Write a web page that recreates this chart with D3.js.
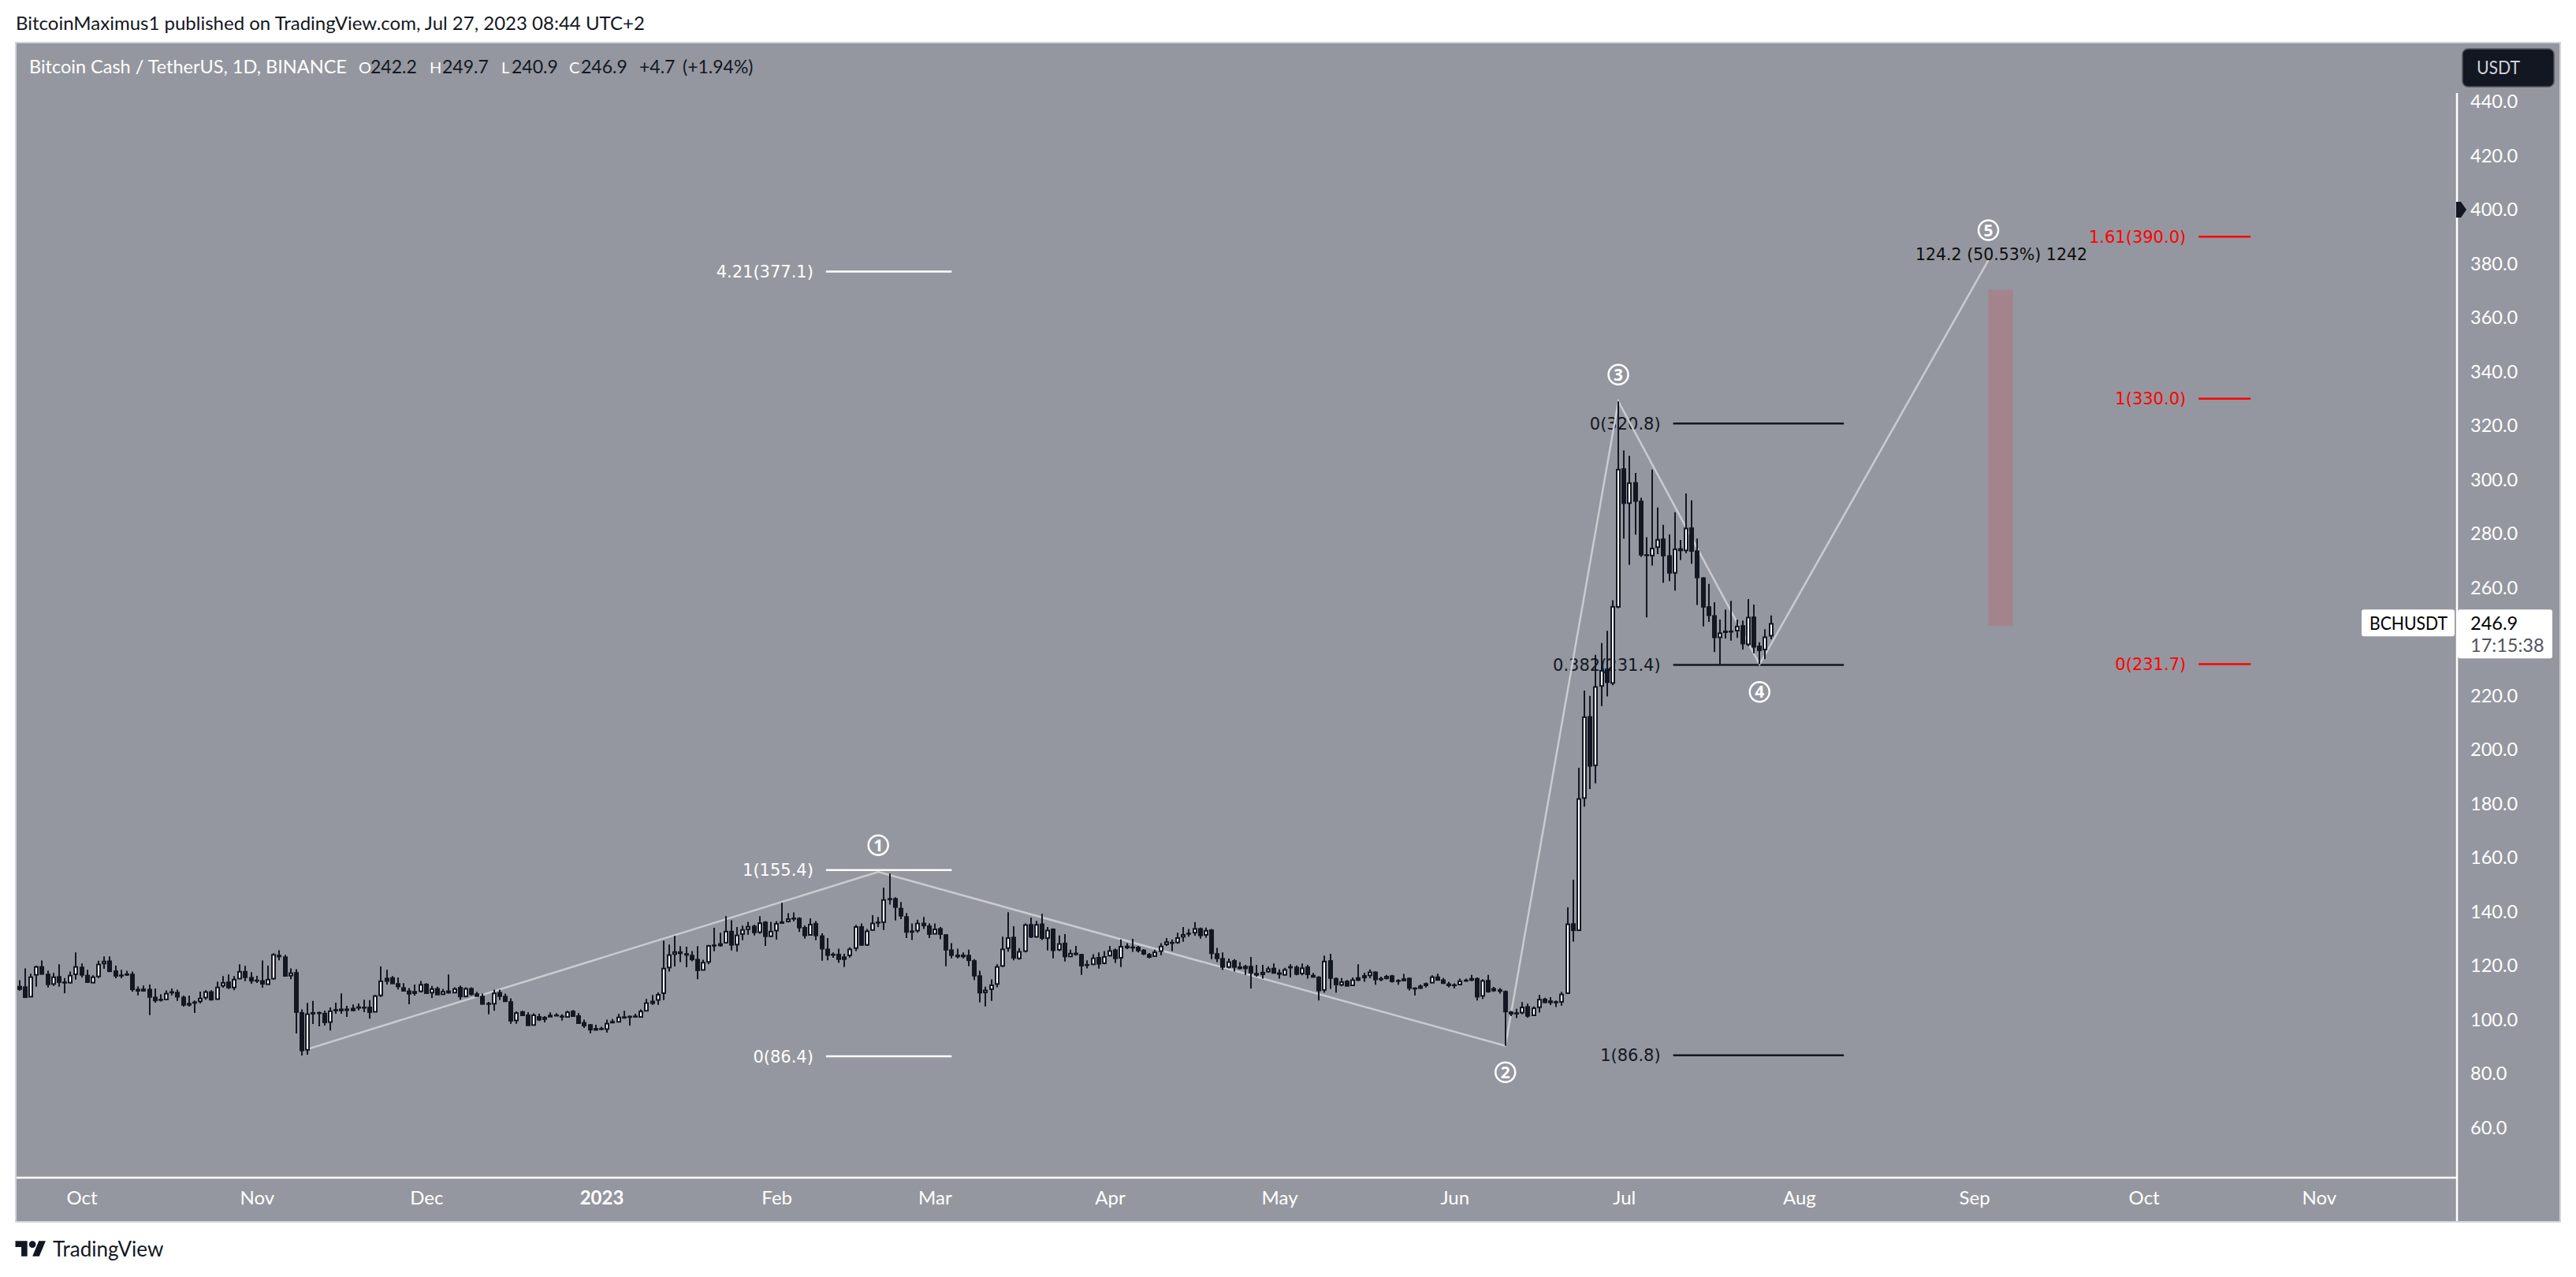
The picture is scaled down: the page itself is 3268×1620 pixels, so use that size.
<!DOCTYPE html>
<html>
<head>
<meta charset="utf-8">
<title>BCHUSDT</title>
<script src="https://cdn.jsdelivr.net/npm/d3@7/dist/d3.min.js"></script>
<style>
  html, body { margin: 0; padding: 0; background: #fff; }
  svg { display: block; }
  text { font-family: "Lato", "Open Sans", sans-serif; }
  .fib { font-family: "DejaVu Sans", sans-serif; font-size: 21px; }
</style>
</head>
<body>
<script>
// daily candles, first one is 20 Sep 2022
const firstDay = '2022-09-20';
const opens = [
  112.5,112.3,108.5,116.6,119.8,117.0,113.2,116.1,114.1,113.7,
  116.8,119.6,116.6,113.7,116.0,120.8,121.9,118.2,116.7,117.1,
  117.0,111.4,111.5,111.4,108.5,107.7,107.5,110.5,110.3,108.5,
  106.2,106.7,106.8,108.2,110.5,107.6,112.6,114.1,111.9,115.2,
  118.0,115.8,114.8,114.6,113.1,115.2,124.0,123.4,116.3,117.6,
  102.8,88.8,102.8,102.8,102.5,99.1,103.9,104.1,104.1,104.4,
  104.9,104.8,104.8,102.9,109.0,115.5,115.7,113.5,112.0,110.8,
  109.8,110.5,113.3,110.0,111.7,109.4,110.8,110.0,112.1,108.6,
  111.7,109.7,108.8,106.2,105.9,110.2,108.8,106.8,99.7,103.1,
  101.9,98.0,101.3,100.2,101.8,101.9,101.5,101.0,103.3,101.6,
  99.1,98.3,96.9,96.9,96.5,99.5,99.2,101.2,101.4,101.5,
  101.0,103.3,107.0,107.3,109.8,119.3,124.3,125.3,124.6,124.0,
  122.5,118.4,121.4,127.8,128.3,128.5,132.9,127.8,131.7,133.5,
  134.8,132.4,136.3,130.9,133.0,136.4,136.4,137.8,137.7,134.3,
  131.4,135.8,131.2,126.3,124.4,124.4,123.4,123.8,126.5,134.6,
  127.7,133.2,136.3,136.1,145.0,145.0,141.4,138.3,133.0,133.0,
  135.9,134.9,131.8,133.9,131.6,126.0,124.1,124.1,124.0,122.0,
  116.4,110.1,111.3,113.2,119.9,126.5,130.7,122.7,125.4,135.4,
  130.7,135.6,130.2,133.7,125.9,128.5,123.4,124.8,124.3,120.6,
  120.5,123.2,120.9,123.7,126.0,122.9,127.4,127.1,127.0,125.9,
  124.3,123.5,125.4,127.9,128.8,128.6,130.7,132.2,132.2,133.9,
  131.4,133.4,124.6,122.8,119.5,122.0,119.7,119.9,119.9,117.3,
  116.8,117.8,119.2,117.5,116.6,119.8,119.6,117.1,119.7,116.6,
  115.9,111.0,122.0,115.4,112.9,114.4,112.7,115.7,116.5,116.4,
  117.8,115.4,115.3,116.4,114.7,114.5,115.5,111.9,111.7,113.5,
  113.7,116.0,114.9,113.4,113.1,113.0,114.8,115.4,115.4,108.8,
  114.7,111.7,111.2,110.6,103.0,102.7,102.6,105.0,101.6,104.6,
  107.8,107.1,106.8,106.6,109.8,135.7,133.1,182.1,212.4,194.2,
  223.6,230.0,224.7,252.9,304.2,291.3,299.1,292.2,272.4,271.9,
  275.0,278.2,272.0,265.5,274.6,273.8,282.3,273.8,263.8,253.1,
  249.8,241.6,244.1,244.1,244.1,246.1,239.0,249.3,238.5,237.1,
  242.2
];
const highs = [
  114.6,119.0,117.0,120.0,121.9,118.1,117.3,120.5,115.4,117.8,
  124.9,120.8,118.5,116.4,121.8,123.4,123.4,120.0,118.5,118.1,
  117.8,112.3,112.6,113.0,111.5,109.4,110.8,111.5,111.1,108.9,
  108.9,107.1,110.4,110.9,110.9,114.1,116.1,116.7,116.1,120.5,
  119.9,117.6,116.2,121.9,120.0,124.6,125.7,124.0,119.0,118.7,
  103.8,106.2,106.9,103.0,103.3,104.5,106.3,109.7,105.1,105.6,
  106.0,107.4,107.2,109.1,119.7,118.5,116.1,115.6,113.5,111.7,
  113.0,114.3,113.5,112.5,112.2,111.4,116.7,112.0,112.6,112.0,
  112.0,110.3,109.6,106.6,111.1,111.1,109.6,107.9,103.1,103.3,
  102.7,102.3,102.2,101.3,102.7,102.4,102.0,103.3,103.6,102.4,
  100.0,98.4,98.1,97.4,100.0,100.2,102.1,103.3,101.5,102.2,
  103.8,107.7,109.1,110.1,129.3,127.8,131.0,127.2,127.0,125.4,
  127.2,122.2,127.7,134.0,132.2,138.3,136.8,134.3,134.8,136.2,
  135.2,138.3,136.5,136.2,136.5,143.3,139.4,139.7,137.9,134.9,
  137.5,136.5,132.0,130.2,124.9,126.3,124.4,126.8,135.1,135.6,
  133.6,138.7,138.0,148.9,154.1,145.3,143.6,139.5,135.6,137.0,
  138.0,135.6,135.6,134.3,131.7,128.3,126.3,124.9,125.9,122.4,
  118.1,112.2,114.9,120.5,130.7,139.8,134.6,126.5,135.6,137.8,
  136.6,139.2,134.3,133.8,131.2,131.7,125.9,127.3,124.4,122.0,
  124.2,124.9,125.4,127.3,126.3,129.7,128.3,129.9,127.3,126.1,
  124.7,125.9,128.3,130.2,129.7,132.2,134.3,133.6,136.1,134.1,
  134.1,133.6,126.6,124.9,122.6,122.4,121.3,120.3,123.2,120.3,
  120.3,119.7,120.8,118.6,119.2,120.5,120.1,120.8,120.3,117.3,
  116.1,123.7,124.4,115.6,115.4,114.7,115.6,120.5,117.4,118.6,
  117.9,115.9,116.6,116.6,115.0,116.9,115.6,112.0,113.0,113.7,
  116.4,117.0,115.4,114.0,113.4,115.2,115.2,116.6,115.6,115.0,
  116.6,112.1,111.7,110.8,103.2,104.0,106.5,105.9,104.9,109.2,
  108.1,108.3,107.1,110.3,141.6,151.8,193.3,221.9,219.9,235.1,
  239.5,244.0,255.3,329.0,310.8,308.8,302.5,293.3,278.7,303.7,
  289.7,283.3,279.7,287.9,277.7,294.9,292.3,278.2,263.9,261.4,
  254.6,248.2,251.9,255.1,248.2,247.8,255.8,253.7,239.8,244.6,
  249.7
];
const lows = [
  110.7,108.0,108.5,112.2,116.9,111.9,112.5,112.2,109.8,113.4,
  114.8,115.6,113.7,113.5,115.4,118.8,117.8,115.3,115.3,116.2,
  110.4,109.0,110.4,101.7,106.3,106.7,107.4,109.0,106.9,104.8,
  104.8,102.5,106.0,107.4,107.1,107.4,111.8,111.3,110.9,115.1,
  114.2,113.3,113.6,111.8,113.0,114.8,122.0,116.2,115.0,94.9,
  86.7,87.0,98.4,97.5,97.8,96.0,102.2,102.2,101.0,103.4,
  103.4,102.8,100.4,102.9,108.4,113.0,113.2,111.2,110.4,105.7,
  108.9,110.1,109.6,108.0,109.3,109.3,109.6,110.0,107.4,108.5,
  109.0,108.6,105.8,102.0,103.3,107.2,106.7,98.5,98.5,101.4,
  97.9,97.9,99.5,99.0,101.0,101.4,99.6,100.8,101.1,98.5,
  96.9,94.9,96.1,96.1,95.2,98.8,99.0,100.4,97.8,100.7,
  100.8,103.2,105.5,105.5,107.2,117.8,119.7,121.3,119.4,121.6,
  115.0,118.3,120.5,125.3,127.0,128.3,125.6,125.2,129.4,131.4,
  131.2,131.8,127.3,130.5,129.6,135.6,136.0,136.4,132.5,130.0,
  131.2,129.4,121.8,122.0,122.9,121.0,119.5,122.9,125.4,127.3,
  127.3,133.0,134.3,133.2,142.6,136.7,137.2,130.2,129.5,132.2,
  133.6,130.2,131.7,129.8,119.8,122.7,122.7,122.7,119.8,114.7,
  106.4,104.9,106.9,112.0,119.5,125.2,122.0,122.2,124.9,130.2,
  130.4,129.5,125.6,122.7,125.4,121.5,123.2,123.7,116.6,119.0,
  120.2,118.9,120.5,123.4,121.0,119.5,126.1,125.1,124.9,123.9,
  122.7,123.4,123.9,127.3,125.4,128.1,128.8,130.7,131.0,130.0,
  130.4,122.4,121.3,118.4,119.0,117.8,118.6,116.6,111.5,115.9,
  115.2,117.4,117.1,115.2,116.4,115.6,116.4,116.4,115.2,115.6,
  107.1,110.0,111.4,110.0,112.3,112.4,112.5,114.2,114.0,115.3,
  112.9,114.2,114.9,113.7,112.9,114.3,110.8,109.0,111.4,111.9,
  113.5,114.5,113.3,112.0,111.5,112.9,114.0,114.2,107.1,107.7,
  110.0,110.3,109.6,90.3,101.3,100.6,102.0,100.7,101.4,102.6,
  106.1,105.4,104.7,105.2,109.6,128.9,133.1,178.9,185.4,187.5,
  216.1,219.7,223.9,252.4,278.2,268.5,279.6,271.4,249.0,268.2,
  272.4,261.8,262.4,258.9,270.2,272.8,268.8,253.6,245.6,247.3,
  236.1,231.3,241.2,240.4,241.4,237.1,238.3,235.7,231.7,233.6,
  240.9
];
const closes = [
  111.3,108.3,116.0,119.8,116.9,113.1,116.0,113.9,113.8,116.6,
  119.8,116.6,113.9,116.0,120.7,121.8,117.9,116.2,116.3,116.6,
  111.2,110.7,110.7,108.4,107.1,107.3,109.9,110.0,108.5,105.5,
  105.5,106.2,108.1,110.5,107.4,112.2,113.9,111.9,115.1,118.0,
  115.7,114.4,114.5,113.3,115.1,124.3,123.4,116.2,117.5,102.8,
  88.6,102.3,102.2,102.4,99.0,103.4,103.4,103.4,103.5,103.4,
  104.4,104.4,102.8,109.0,114.5,114.3,113.4,112.3,110.7,109.6,
  110.6,113.2,109.8,111.6,109.3,110.6,110.0,111.6,108.6,111.7,
  109.4,108.7,105.8,106.0,110.0,108.7,106.8,99.6,102.7,101.6,
  97.9,101.9,100.0,101.0,101.1,101.6,101.2,103.0,101.3,98.7,
  97.8,96.3,96.2,96.5,98.8,98.9,101.1,100.7,101.0,101.1,
  103.3,106.4,106.1,109.5,119.2,124.2,125.3,124.6,124.0,122.3,
  118.3,121.4,127.6,127.6,127.5,132.9,127.7,131.5,133.5,134.7,
  132.3,136.0,130.9,132.9,135.8,135.8,137.5,137.5,134.1,131.2,
  135.5,131.2,126.3,123.9,124.0,122.4,122.4,126.3,134.6,127.7,
  133.0,135.9,135.9,144.6,144.8,141.7,138.5,132.5,132.5,135.9,
  134.9,131.7,133.7,131.7,125.9,123.9,123.4,123.4,122.0,116.3,
  110.0,111.1,113.0,119.8,126.3,130.5,122.9,125.4,135.3,130.7,
  135.4,130.2,133.3,125.7,128.3,123.4,124.7,124.2,120.0,120.2,
  123.0,120.7,123.5,125.7,122.7,127.3,126.7,126.8,125.6,124.4,
  123.2,125.2,127.4,129.0,128.6,130.5,131.7,131.8,133.9,131.2,
  133.2,124.6,122.7,119.5,121.6,119.5,119.0,119.0,117.4,116.6,
  117.7,119.0,117.3,116.9,118.7,119.3,116.9,119.3,116.8,115.8,
  110.8,121.8,115.4,113.0,114.2,112.5,114.9,114.7,115.6,117.8,
  114.9,114.9,116.2,114.2,114.5,115.3,111.7,111.7,112.6,112.7,
  116.0,114.7,113.5,112.7,112.7,114.5,114.5,114.7,108.5,114.6,
  110.4,110.8,110.6,103.0,102.2,102.2,104.8,101.4,104.5,107.7,
  106.4,106.4,106.5,109.6,135.6,133.1,182.0,212.3,194.0,223.5,
  229.5,225.0,253.2,304.0,291.3,299.0,292.1,272.2,272.0,274.8,
  278.0,271.9,265.5,274.5,273.8,282.2,273.6,263.8,252.9,249.8,
  241.6,243.4,243.5,243.9,245.9,239.3,249.2,238.1,236.8,241.9,
  246.9
];

// 240.0 sits behind the last price tag in the picture, so it is left out
const priceTicks = [60,80,100,120,140,160,180,200,220,260,280,300,320,340,360,380,400,420,440];
const monthTicks = ['2022-10-01','2022-11-01','2022-12-01','2023-01-01','2023-02-01','2023-03-01','2023-04-01','2023-05-01','2023-06-01','2023-07-01','2023-08-01','2023-09-01','2023-10-01','2023-11-01'];

// wave path, drawn as thin grey segments
const waveDates = ['2022-11-10','2023-02-19','2023-06-10','2023-06-30','2023-07-25','2023-09-03T12:00'];
const wavePrices = [89.1,154.7,90.3,329.0,231.6,381.3];
const waveLabels = ['1','2','3','4','5'];

// fib groups: label, price, then the date span of the group
const whiteFibLabels = ['4.21(377.1)','1(155.4)','0(86.4)'];
const whiteFibPrices = [377.1,155.4,86.4];
const whiteFibSpan = ['2023-02-09T18:00','2023-03-04'];
const blackFibLabels = ['0(320.8)','0.382(231.4)','1(86.8)'];
const blackFibPrices = [320.8,231.4,86.8];
const blackFibSpan = ['2023-07-09T17:00','2023-08-08T22:00'];
const redFibLabels = ['1.61(390.0)','1(330.0)','0(231.7)'];
const redFibPrices = [390.0,330.0,231.7];
const redFibSpan = ['2023-10-10T17:00','2023-10-19T22:00'];

const boxDates = ['2023-09-03T12:00','2023-09-07T21:00'];
const boxPrices = [370.3,245.8];

const lastPrice = 246.9;
const markerPrice = 400;

const width = 3268;
const height = 1620;
const ink = '#131722';
const panelColor = '#94979f';

const utc = s => new Date(s.length > 10 ? s + ':00Z' : s + 'T00:00:00Z');

const x = d3.scaleUtc()
  .domain([utc('2023-01-01'), utc('2023-07-27')])
  .range([763, 2246.6]);
const y = d3.scaleLinear().domain([440, 60]).range([129, 1430.5]);

const candles = opens.map((o, i) => ({
  date: d3.utcDay.offset(utc(firstDay), i),
  o, h: highs[i], l: lows[i], c: closes[i]
}));

const svg = d3.select('body').append('svg').attr('width', width).attr('height', height);

// page header
svg.append('text').attr('x', 20).attr('y', 38)
  .attr('font-size', 24).attr('fill', ink)
  .text('BitcoinMaximus1 published on TradingView.com, Jul 27, 2023 08:44 UTC+2');

// panel
svg.append('rect').attr('x', 20).attr('y', 54).attr('width', 3228).attr('height', 1496)
  .attr('fill', panelColor).attr('stroke', '#d1d4dc').attr('stroke-width', 2);

const chart = svg.append('g');

// axis lines
chart.append('line').attr('x1', 3117).attr('x2', 3117).attr('y1', 118).attr('y2', 1549)
  .attr('stroke', '#fff').attr('stroke-width', 2.5);
chart.append('line').attr('x1', 21).attr('x2', 3118).attr('y1', 1494).attr('y2', 1494)
  .attr('stroke', '#fff').attr('stroke-width', 2.5);

// price axis
const yAxis = d3.axisRight(y).tickValues(priceTicks).tickSize(0).tickPadding(17).tickFormat(d3.format('.1f'));
const yG = chart.append('g').attr('transform', 'translate(3117,0)').call(yAxis);
yG.select('.domain').remove();
yG.selectAll('text').attr('font-size', 23.5).attr('fill', '#fff').style('font-family', 'Lato');

// time axis
const xAxis = d3.axisBottom(x).tickValues(monthTicks.map(utc)).tickSize(0).tickPadding(0)
  .tickFormat(d => d.getUTCMonth() === 0 ? String(d.getUTCFullYear()) : d3.utcFormat('%b')(d));
const xG = chart.append('g').attr('transform', 'translate(0,1511)').call(xAxis);
xG.select('.domain').remove();
xG.selectAll('text').attr('font-size', 24).attr('fill', '#fff').style('font-family', 'Lato')
  .attr('font-weight', d => d.getUTCMonth() === 0 ? 700 : 400);

// box
chart.append('rect')
  .attr('x', x(utc(boxDates[0]))).attr('width', x(utc(boxDates[1])) - x(utc(boxDates[0])))
  .attr('y', y(boxPrices[0])).attr('height', y(boxPrices[1]) - y(boxPrices[0]))
  .attr('fill', '#a3848c');

// fib groups
function drawFib(labels, prices, span, color) {
  const g = chart.append('g');
  const x1 = x(utc(span[0]));
  const x2 = x(utc(span[1]));
  prices.forEach((p, i) => {
    g.append('line').attr('x1', x1).attr('x2', x2).attr('y1', y(p)).attr('y2', y(p))
      .attr('stroke', color).attr('stroke-width', 2.5);
    g.append('text').attr('class', 'fib').attr('x', x1 - 16).attr('y', y(p))
      .attr('dy', '0.36em').attr('text-anchor', 'end').attr('fill', color).text(labels[i]);
  });
}
drawFib(whiteFibLabels, whiteFibPrices, whiteFibSpan, '#fff');
drawFib(blackFibLabels, blackFibPrices, blackFibSpan, ink);
drawFib(redFibLabels, redFibPrices, redFibSpan, '#ff0000');

// wave line
const wavePoints = waveDates.map((d, i) => [x(utc(d)), y(wavePrices[i])]);
chart.append('path').attr('d', d3.line()(wavePoints))
  .attr('fill', 'none').attr('stroke', '#c9cbd0').attr('stroke-width', 2.5);

// projection text
chart.append('text').attr('class', 'fib').attr('x', 2539).attr('y', 323)
  .attr('dy', '0.36em').attr('text-anchor', 'middle').attr('fill', '#0d0d0d')
  .style('font-size', '20.5px')
  .text('124.2 (50.53%) 1242');

// wave circles, 1 to 5, above the peaks and below the troughs
const circleOffsets = [-34, 33.5, -34, 35, -38];
waveLabels.forEach((label, i) => {
  const [cx, cy] = wavePoints[i + 1];
  const g = chart.append('g').attr('transform', `translate(${cx},${cy + circleOffsets[i]})`);
  g.append('circle').attr('r', 12.5).attr('fill', 'none').attr('stroke', '#fff').attr('stroke-width', 2.5);
  g.append('text').attr('text-anchor', 'middle').attr('dy', '0.36em')
    .attr('font-size', 21).attr('font-weight', 700).attr('fill', '#fff')
    .style('font-family', 'Open Sans').text(label);
});

// candles
const candleG = chart.append('g');
const cx = d => Math.round(x(d.date));
candleG.selectAll('line').data(candles).join('line')
  .attr('x1', cx).attr('x2', cx)
  .attr('y1', d => y(d.h)).attr('y2', d => y(d.l))
  .attr('stroke', ink).attr('stroke-width', 2);
candleG.selectAll('rect').data(candles).join('rect')
  .attr('x', d => cx(d) - 2)
  .attr('width', 4)
  .attr('y', d => Math.min(y(d.o), y(d.c)) + 1)
  .attr('height', d => Math.max(Math.abs(y(d.o) - y(d.c)) - 1, 0.5))
  .attr('fill', d => d.c > d.o ? '#fff' : ink)
  .attr('stroke', ink).attr('stroke-width', 2);

// legend row
const legendParts = [
  ['Bitcoin Cash / TetherUS, 1D, BINANCE', 37, '#fff', 23.5],
  ['O', 455, '#fff', 20], ['242.2', 470, ink, 23],
  ['H', 545, '#fff', 20], ['249.7', 561, ink, 23],
  ['L', 636, '#fff', 20], ['240.9', 649, ink, 23],
  ['C', 722, '#fff', 20], ['246.9', 737, ink, 23],
  ['+4.7', 811, ink, 23], ['(+1.94%)', 866, ink, 23]
];
legendParts.forEach(([t, px, color, size]) => {
  svg.append('text').attr('x', px).attr('y', 93).attr('font-size', size).attr('fill', color).text(t);
});

// currency button
svg.append('rect').attr('x', 3124).attr('y', 62).attr('width', 116).attr('height', 48).attr('rx', 7)
  .attr('fill', ink).attr('stroke', '#50535e').attr('stroke-width', 1.5);
svg.append('text').attr('x', 3142).attr('y', 94).attr('font-size', 23).attr('fill', '#d1d4dc')
  .attr('textLength', 55).attr('lengthAdjust', 'spacingAndGlyphs').text('USDT');

// marker on the price axis
svg.append('path')
  .attr('d', `M3116,${y(markerPrice) - 10}h6l7,10l-7,10h-6z`)
  .attr('fill', ink);

// last price tags
const lastY = y(lastPrice);
svg.append('rect').attr('x', 2996).attr('y', lastY - 17).attr('width', 118).attr('height', 34).attr('rx', 3).attr('fill', '#fff');
svg.append('text').attr('x', 3006).attr('y', lastY + 8.5).attr('font-size', 23).attr('fill', '#000')
  .attr('textLength', 99).attr('lengthAdjust', 'spacingAndGlyphs').text('BCHUSDT');
svg.append('rect').attr('x', 3118).attr('y', lastY - 17).attr('width', 120).attr('height', 62).attr('rx', 3).attr('fill', '#fff');
svg.append('text').attr('x', 3134).attr('y', lastY + 9).attr('font-size', 23.5).attr('fill', '#000').text(lastPrice.toFixed(1));
svg.append('text').attr('x', 3134).attr('y', lastY + 37).attr('font-size', 23.5).attr('fill', '#50535e').text('17:15:38');

// footer logo
const logo = svg.append('g').attr('transform', 'translate(19.5,1570) scale(1.083)').attr('fill', ink);
logo.append('path').attr('d', 'M14 22H7V11H0V4h14v18zM28 22h-8l7.5-18h8L28 22z');
logo.append('circle').attr('cx', 20).attr('cy', 8).attr('r', 4);
svg.append('text').attr('x', 67).attr('y', 1594).attr('font-size', 26).attr('fill', ink).text('TradingView');
</script>
</body>
</html>
